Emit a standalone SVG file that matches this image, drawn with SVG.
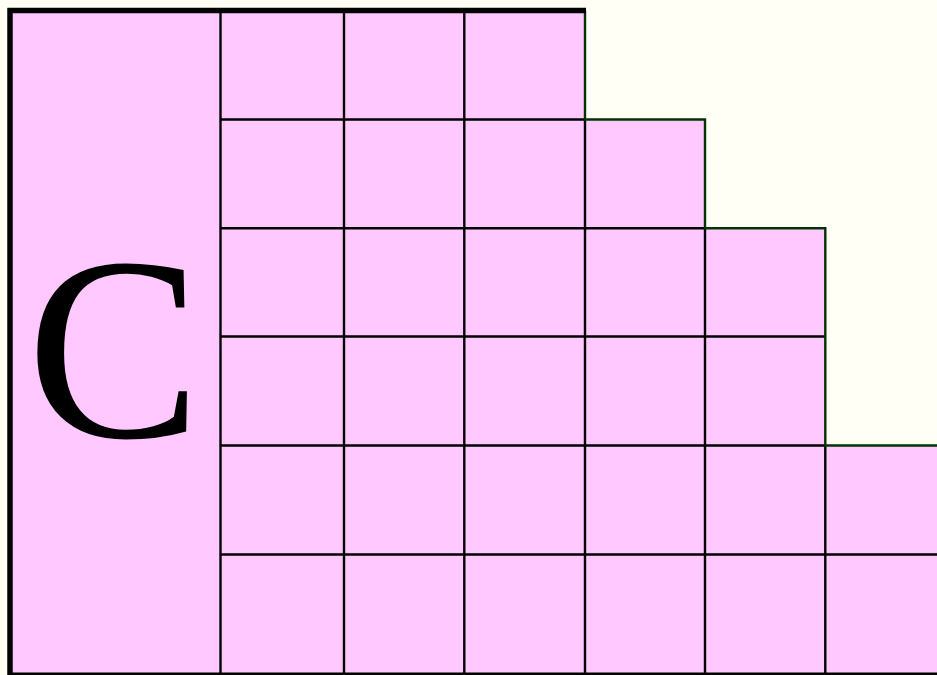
<svg xmlns="http://www.w3.org/2000/svg" width="937" height="675" viewBox="0 0 937 675">
<style>
.grid{stroke:#000;stroke-width:2.4;fill:none}
.edge{stroke:#003300;stroke-width:2.4;fill:none}
.thick{stroke:#000;stroke-width:5.5;fill:none}
</style>
<rect x="0" y="0" width="937" height="675" fill="#FFFFF6"/>
<g id="shape">
<polygon points="10,10.5 585,10.5 585,119.5 705,119.5 705,228.3 825.3,228.3 825.3,445.5 937,445.5 937,675 10,675" fill="#FFC8FF"/>
</g>
<g id="grid">
<path class="grid" d="M220.5,10V675M344,10V675M464.3,10V675M585,119.5V675M705,228.3V675M825.3,445.5V675"/>
<path class="grid" d="M220.5,119.5H585M220.5,228.3H705M220.5,336.5H825.3M220.5,445.5H825.3M220.5,554.5H937"/>
<path class="edge" d="M585,10.5V119.5H705V228.3H825.3V445.5H937"/>
<path class="thick" d="M10,8V675M7.5,10.5H586"/>
<path stroke="#000" stroke-width="3" d="M10,674H937"/>
</g>
<g id="label">
<text x="114" y="437" text-anchor="middle" style="font-family:'Liberation Serif',serif;font-size:262px" fill="#000">C</text>
</g>
</svg>
